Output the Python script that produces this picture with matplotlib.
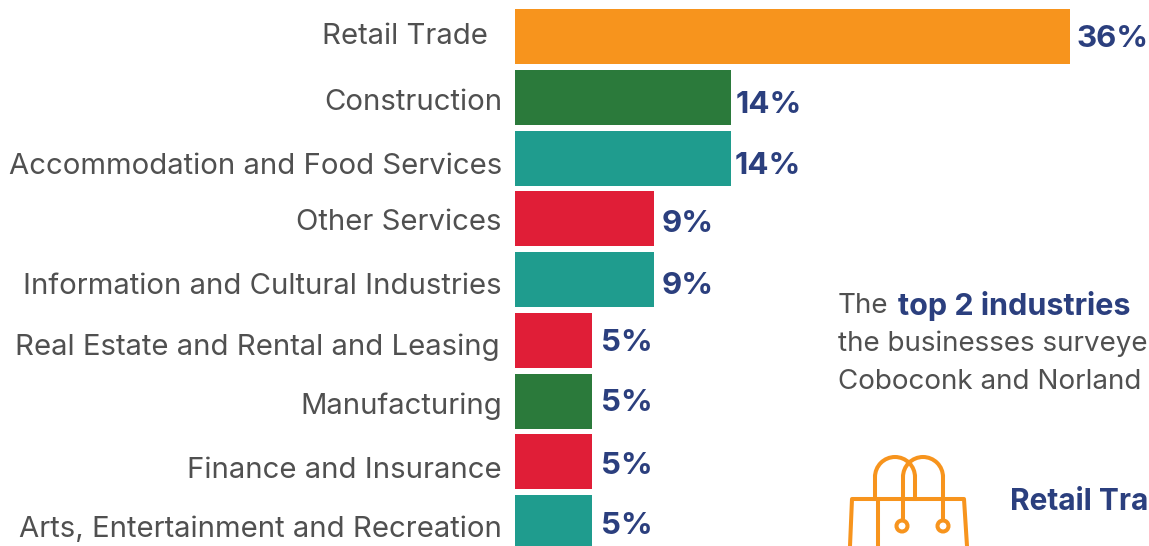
import matplotlib
matplotlib.use("Agg")
import matplotlib.pyplot as plt
from matplotlib.patches import Arc, Circle

W, H = 1149, 546

industries = ["Retail Trade", "Construction", "Accommodation and Food Services", "Other Services",
              "Information and Cultural Industries", "Real Estate and Rental and Leasing",
              "Manufacturing", "Finance and Insurance", "Arts, Entertainment and Recreation"]
shares = [36, 14, 14, 9, 9, 5, 5, 5, 5]
bar_colors = ["#F7941D", "#2B7A3B", "#1F9C8E", "#E01E37", "#1F9C8E", "#E01E37", "#2B7A3B", "#E01E37", "#1F9C8E"]

label_right = [488, 502, 502, 502, 502, 500, 502, 502, 502]
label_y = [34, 100, 163, 220, 283, 344, 403, 467, 526]
value_x = [1076, 736, 735, 662, 662, 601, 601, 601, 601]
value_y = [36, 102, 163, 221, 283, 340, 400, 463, 523]

GREY = "#505050"
NAVY = "#2B3F7E"
ORANGE = "#F7941D"
FONT = "Inter"

fig = plt.figure(figsize=(W/100, H/100), dpi=100)

# bars live in their own axes, x is percent, y is row number
px_per_pct = 15.43
top_px = 9 - (60.75-55)/2
ax = fig.add_axes([515/W, 0, 100*px_per_pct/W, (H-top_px)/H])
ax.barh(range(len(shares)), shares, height=55/60.75, color=bar_colors, linewidth=0)
ax.set_xlim(0, 100)
ax.set_ylim((H-top_px)/60.75-0.5, -0.5)
ax.axis("off")

# overlay in pixel coordinates for text and the bag icon
ov = fig.add_axes([0, 0, 1, 1])
ov.set_xlim(0, W)
ov.set_ylim(H, 0)
ov.axis("off")
ov.patch.set_alpha(0)

for name, xr, y in zip(industries, label_right, label_y):
    ov.text(xr, y, name, ha="right", va="center_baseline", fontsize=21.1, color=GREY, family=FONT)
for s, x, y in zip(shares, value_x, value_y):
    ov.text(x, y, f"{s}%", ha="left", va="center_baseline", fontsize=22.5, color=NAVY, family=FONT, fontweight="bold")

ov.text(838, 303, "The", ha="left", va="center_baseline", fontsize=20, color=GREY, family=FONT)
ov.text(898, 303, "top 2 industries", ha="left", va="center_baseline", fontsize=22, color=NAVY, family=FONT, fontweight="bold")
ov.text(838, 341, "the businesses surveye", ha="left", va="center_baseline", fontsize=20, color=GREY, family=FONT)
ov.text(838, 379, "Coboconk and Norland", ha="left", va="center_baseline", fontsize=20, color=GREY, family=FONT)
ov.text(1010, 499, "Retail Tra", ha="left", va="center_baseline", fontsize=21.5, color=NAVY, family=FONT, fontweight="bold")

# shopping bag icon
lw = 2.9
ov.add_patch(Arc((895, 477), 40, 40, theta1=180, theta2=360, color=ORANGE, lw=lw))
ov.add_patch(Arc((923, 477), 40, 40, theta1=180, theta2=360, color=ORANGE, lw=lw))
ov.plot([875, 875], [477, 499], color=ORANGE, lw=lw)
ov.plot([915, 915], [477, 499], color=ORANGE, lw=lw)
ov.plot([903, 903], [477, 520], color=ORANGE, lw=lw)
ov.plot([943, 943], [477, 520], color=ORANGE, lw=lw)
ov.plot([878, 878], [499, 546], color=ORANGE, lw=lw)
ov.plot([850, 852, 964, 967], [546, 499, 499, 546], color=ORANGE, lw=lw, solid_joinstyle="round")
ov.add_patch(Circle((902, 526), 5.5, fill=False, ec=ORANGE, lw=lw))
ov.add_patch(Circle((943, 526), 5.5, fill=False, ec=ORANGE, lw=lw))

fig.savefig("out.png", dpi=100)
